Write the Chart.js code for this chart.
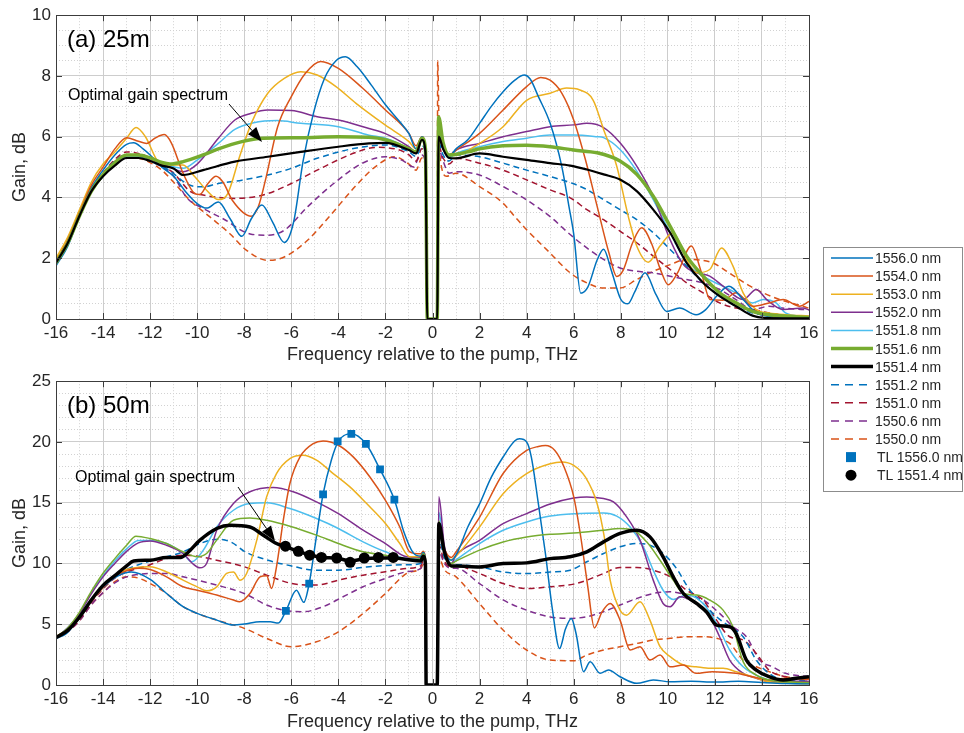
<!DOCTYPE html>
<html>
<head>
<meta charset="utf-8">
<script src="https://cdn.jsdelivr.net/npm/chart.js@4.4.1/dist/chart.umd.min.js"></script>
<style>
body { margin: 0; background: #fff; }
#page { position: relative; width: 964px; height: 733px; overflow: hidden; font-family: "Liberation Sans", Arial, sans-serif; }
canvas { position: absolute; left: 0; }
#chartA { top: 0; }
#chartB { top: 366px; }
.txt { position: absolute; white-space: nowrap; color: #000; line-height: 1; }
.tag { font-size: 24px; left: 67px; }
.note { font-size: 16px; }
#overlay { position: absolute; left: 0; top: 0; }
</style>
</head>
<body>
<div id="page">
  <canvas id="chartA" width="830" height="370"></canvas>
  <canvas id="chartB" width="830" height="367"></canvas>
  <div class="txt tag" style="top:27px">(a) 25m</div>
  <div class="txt tag" style="top:393px">(b) 50m</div>
  <div class="txt note" style="left:68px;top:87px">Optimal gain spectrum</div>
  <div class="txt note" style="left:75px;top:469px">Optimal gain spectrum</div>
  <svg id="overlay" width="964" height="733"></svg>
</div>
<script>
const FONT = '"Liberation Sans", Arial, sans-serif';

// series labels and line styles, same order as the legend
const seriesLabels = ['1556.0 nm', '1554.0 nm', '1553.0 nm', '1552.0 nm', '1551.8 nm', '1551.6 nm',
    '1551.4 nm', '1551.2 nm', '1551.0 nm', '1550.6 nm', '1550.0 nm'];
const markerLabels = ['TL 1556.0 nm', 'TL 1551.4 nm'];
const colors = ['#0072BD', '#D95319', '#EDB120', '#7E2F8E', '#4DBEEE', '#77AC30',
    '#000000', '#0072BD', '#A2142F', '#7E2F8E', '#D95319'];
const dashed = [false, false, false, false, false, false, false, true, true, true, true];

// (a) 25m : [frequency THz, gain dB]
const a1556 = [[-16,1.75],[-15.5,2.4],[-15,3.4],[-14.5,4.3],[-14,4.9],[-13.5,5.4],[-13,5.75],[-12.7,5.8],[-12.3,5.6],[-12,5.4],[-11.5,5.0],[-11,4.7],[-10.5,4.2],[-10,3.8],[-9.6,3.65],[-9.1,3.85],[-8.6,3.3],[-8.1,2.72],[-7.7,3.3],[-7.25,3.75],[-6.8,3.2],[-6.3,2.52],[-5.9,3.2],[-5.5,5.2],[-5.05,6.8],[-4.6,7.9],[-4.1,8.5],[-3.7,8.63],[-3.2,8.3],[-2.6,7.7],[-2,7.05],[-1.4,6.5],[-1,6.1],[-0.7,5.6],[-0.45,6.0],[-0.3,5.6],[-0.22,0],[0.2,0],[0.26,6.1],[0.45,5.7],[0.7,5.35],[1,5.6],[1.5,5.9],[2,6.44],[2.5,7.0],[3,7.48],[3.5,7.86],[3.9,8.03],[4.15,7.9],[4.5,7.32],[5,6.44],[5.5,5.0],[5.8,3.7],[6.0,2.8],[6.3,0.85],[6.6,1.05],[7.0,1.95],[7.27,2.3],[7.6,1.6],[8.0,0.65],[8.3,0.5],[8.6,0.9],[9.03,1.52],[9.5,0.8],[9.95,0.25],[10.5,0.36],[11.2,0.14],[11.6,0.3],[12.07,0.75],[12.6,1.08],[13.2,0.64],[13.76,0.2],[14.3,0.09],[15,0.06],[16,0.05]];
const a1554 = [[-16,1.9],[-15.5,2.6],[-15,3.5],[-14.5,4.4],[-14,5.0],[-13.5,5.6],[-13,5.97],[-12.5,5.85],[-12.15,5.78],[-11.8,5.95],[-11.4,6.07],[-11.1,5.8],[-10.6,4.8],[-10.1,4.13],[-9.9,4.1],[-9.55,4.45],[-9.2,4.7],[-8.9,4.5],[-8.5,3.9],[-7.7,3.38],[-7.4,3.7],[-7.1,4.57],[-6.58,6.33],[-6.0,7.32],[-5.4,8.09],[-4.75,8.48],[-4,8.25],[-3,7.62],[-2,6.88],[-1,6.11],[-0.7,5.7],[-0.45,6.0],[-0.3,5.6],[-0.22,0],[0.2,0],[0.26,6.3],[0.45,5.75],[0.7,5.4],[1,5.56],[2,6.11],[3,6.88],[4,7.65],[4.6,7.95],[5,7.86],[5.5,7.43],[6,6.55],[6.5,5.24],[7,3.7],[7.5,2.17],[7.83,1.4],[8.1,1.6],[8.5,2.5],[8.89,3.0],[9.3,2.5],[9.7,1.6],[10.02,1.13],[10.4,1.5],[11.0,2.4],[11.4,1.6],[11.8,0.64],[12.35,0.62],[12.9,0.86],[13.6,0.42],[14.3,0.53],[14.9,0.64],[15.6,0.42],[16,0.58]];
const a1553 = [[-16,2.0],[-15.5,2.7],[-15,3.6],[-14.5,4.5],[-14,5.1],[-13.5,5.5],[-13,5.95],[-12.6,6.3],[-12.2,6.0],[-11.6,5.13],[-11.16,5.07],[-10.6,5.07],[-10.1,4.68],[-9.6,4.24],[-9.1,3.93],[-8.7,4.13],[-8.2,5.34],[-7.7,6.44],[-7.0,7.43],[-6.3,7.92],[-5.6,8.14],[-4.9,8.03],[-4.1,7.65],[-3.25,7.1],[-2,6.38],[-1,5.84],[-0.7,5.6],[-0.45,6.0],[-0.3,5.6],[-0.22,0],[0.2,0],[0.26,6.0],[0.45,5.7],[0.7,5.4],[1,5.4],[2,5.78],[3,6.33],[4,7.2],[5,7.43],[5.7,7.6],[6.26,7.54],[6.83,7.2],[7.27,6.24],[7.83,5.03],[8.32,3.38],[8.68,2.4],[9.17,1.87],[9.67,2.4],[10.23,2.84],[10.73,2.07],[11.22,1.52],[11.78,1.63],[12.28,2.34],[12.77,1.74],[13.2,0.86],[13.76,0.31],[14.3,0.2],[15,0.14],[16,0.1]];
const a1552 = [[-16,1.9],[-15.5,2.5],[-15,3.4],[-14.5,4.2],[-14,4.75],[-13.5,5.15],[-13,5.4],[-12.5,5.4],[-12,5.25],[-11.5,5.1],[-11.16,5.0],[-10.6,4.85],[-10.0,5.1],[-9.1,5.95],[-8.4,6.55],[-7.7,6.77],[-7.0,6.88],[-6,6.86],[-4.9,6.66],[-4,6.55],[-2.7,6.27],[-2,6.1],[-1,5.67],[-0.7,5.5],[-0.45,5.95],[-0.3,5.55],[-0.22,0],[0.2,0],[0.26,6.0],[0.45,5.6],[0.7,5.35],[1,5.56],[2,5.78],[3,6.0],[4,6.17],[5,6.33],[6,6.39],[6.56,6.44],[7.27,6.3],[7.97,5.8],[8.68,5.03],[9.38,4.04],[10.09,2.62],[10.66,1.79],[11.22,1.52],[11.78,1.41],[12.35,1.08],[13.2,0.64],[13.76,0.97],[14.2,0.64],[14.9,0.31],[15.74,0.36],[16,0.3]];
const a15518 = [[-16,1.85],[-15.5,2.5],[-15,3.4],[-14.5,4.2],[-14,4.7],[-13.5,5.1],[-13,5.35],[-12.5,5.35],[-12,5.2],[-11.5,5.05],[-11.16,5.03],[-10.6,4.96],[-10,5.23],[-9.1,5.78],[-8.4,6.24],[-7.6,6.46],[-6.6,6.53],[-5.6,6.44],[-4,6.33],[-2.7,6.05],[-2,5.95],[-1,5.6],[-0.7,5.45],[-0.45,5.95],[-0.3,5.55],[-0.22,0],[0.2,0],[0.26,6.1],[0.45,5.6],[0.7,5.3],[1,5.45],[2,5.67],[3,5.84],[4,5.95],[5,6.06],[6,6.06],[7,6.0],[7.27,5.97],[7.97,5.58],[8.68,4.87],[9.38,3.93],[10.1,2.84],[10.8,1.85],[11.5,1.41],[12.2,1.13],[12.9,0.86],[13.6,0.53],[14.05,0.64],[14.6,0.53],[15,0.2],[15.74,0.09],[16,0.08]];
const a15516 = [[-16,1.85],[-15.5,2.5],[-15,3.4],[-14.5,4.2],[-14,4.75],[-13.5,5.15],[-13,5.4],[-12.5,5.4],[-12,5.3],[-11.5,5.15],[-11.16,5.1],[-10.6,5.18],[-9.75,5.4],[-9.1,5.6],[-8.1,5.84],[-7.2,5.95],[-5.6,5.97],[-4,6.0],[-2.7,5.98],[-2,5.9],[-1,5.6],[-0.7,5.5],[-0.45,5.95],[-0.3,5.6],[-0.22,0],[0.2,0],[0.26,6.65],[0.45,5.8],[0.7,5.4],[1.5,5.5],[2,5.6],[3,5.7],[4,5.72],[5,5.67],[6,5.56],[7,5.47],[7.97,5.2],[8.68,4.76],[9.38,4.04],[10.1,3.05],[10.8,2.07],[11.5,1.41],[12.2,0.86],[12.9,0.53],[13.6,0.25],[14.3,0.14],[16,0.05]];
const a15514 = [[-16,1.85],[-15.5,2.5],[-15,3.4],[-14.5,4.2],[-14,4.7],[-13.5,5.05],[-13,5.3],[-12.5,5.3],[-12,5.2],[-11.5,5.05],[-11,4.95],[-10.6,4.74],[-9.75,4.9],[-8.4,5.18],[-7,5.34],[-5.6,5.5],[-4,5.67],[-2.7,5.78],[-2,5.8],[-1,5.56],[-0.7,5.45],[-0.45,5.9],[-0.3,5.5],[-0.22,0],[0.2,0],[0.26,6.0],[0.45,5.6],[0.7,5.3],[1,5.29],[2,5.45],[3,5.34],[4,5.24],[5,5.13],[5.85,5.05],[6.56,4.92],[7.27,4.76],[7.97,4.59],[8.68,4.21],[9.38,3.6],[10.1,2.84],[10.8,1.85],[11.5,1.19],[12.2,0.75],[12.9,0.42],[13.6,0.11],[14.3,0.03],[16,0.02]];
const a15512 = [[-16,1.9],[-15.5,2.5],[-15,3.4],[-14.5,4.2],[-14,4.75],[-13.5,5.2],[-13,5.4],[-12.5,5.4],[-12,5.25],[-11.5,5.05],[-11.2,4.9],[-10.3,4.4],[-9.75,4.35],[-9.1,4.46],[-8.1,4.57],[-7,4.74],[-6,4.96],[-4.9,5.29],[-3.3,5.62],[-2,5.73],[-1,5.5],[-0.7,5.35],[-0.45,5.7],[-0.3,5.4],[-0.22,0],[0.2,0],[0.26,5.8],[0.45,5.4],[0.7,5.2],[1,5.4],[2,5.34],[3,5.13],[4,4.9],[5,4.69],[6,4.45],[6.56,4.26],[7.27,3.93],[7.97,3.6],[8.68,3.27],[9.38,2.84],[10.1,2.29],[10.8,1.74],[11.5,1.19],[12.2,0.75],[12.9,0.42],[13.6,0.2],[16,0.05]];
const a15510 = [[-16,1.9],[-15.5,2.5],[-15,3.4],[-14.5,4.3],[-14,4.8],[-13.5,5.25],[-13,5.5],[-12.5,5.45],[-12,5.3],[-11.5,5.05],[-11,4.8],[-10.3,4.2],[-9.75,4.08],[-8.4,3.97],[-7.2,4.08],[-6,4.46],[-4.9,4.9],[-3.3,5.47],[-2.4,5.65],[-1.4,5.56],[-1,5.4],[-0.7,5.2],[-0.45,5.6],[-0.3,5.3],[-0.22,0],[0.2,0],[0.26,5.7],[0.45,5.3],[0.7,5.1],[1,5.29],[2,5.13],[3,4.9],[4,4.58],[5,4.25],[5.85,3.99],[6.56,3.6],[7.27,3.27],[7.97,2.89],[8.68,2.51],[9.38,2.07],[10.1,1.63],[10.8,1.19],[11.5,0.86],[12.2,0.53],[12.9,0.36],[13.6,0.31],[14.3,0.2],[15,0.11],[16,0.08]];
const a15506 = [[-16,1.9],[-15.5,2.5],[-15,3.4],[-14.5,4.2],[-14,4.75],[-13.5,5.2],[-13,5.4],[-12.5,5.35],[-12,5.2],[-11.5,5.0],[-11,4.7],[-10.45,4.0],[-9.75,3.64],[-8.9,3.3],[-7.75,2.8],[-7,2.76],[-6.3,2.92],[-5.3,3.7],[-4.2,4.46],[-3,5.12],[-2,5.34],[-1.3,5.23],[-0.8,5.0],[-0.6,5.3],[-0.45,5.4],[-0.3,5.1],[-0.22,0],[0.2,0],[0.26,5.6],[0.45,5.2],[0.7,4.8],[1,4.85],[2,4.74],[3,4.36],[4,3.92],[5,3.37],[5.85,2.78],[6.56,2.34],[7.27,1.96],[7.97,1.68],[8.68,1.57],[9.38,1.52],[10.1,1.41],[10.8,1.3],[11.5,1.19],[12.2,0.97],[12.9,0.64],[13.6,0.31],[14.3,0.42],[15,0.35],[16,0.3]];
const a15500 = [[-16,1.95],[-15.5,2.6],[-15,3.5],[-14.5,4.3],[-14,4.8],[-13.5,5.2],[-13,5.35],[-12.5,5.3],[-12,5.15],[-11.5,4.9],[-11,4.5],[-10.3,3.9],[-9.46,3.36],[-8.6,2.8],[-7.9,2.26],[-7,1.93],[-6.3,2.04],[-5.3,2.6],[-4.4,3.36],[-3.3,4.35],[-2.45,5.0],[-1.6,5.34],[-1,5.1],[-0.7,4.9],[-0.45,5.3],[-0.3,5.0],[-0.22,0],[0.2,0],[0.22,8.5],[0.3,5.5],[0.6,4.7],[1,4.8],[2,4.36],[3,3.81],[3.5,3.37],[4,2.94],[5,2.17],[5.85,1.52],[6.56,1.19],[7.27,1.02],[7.97,1.02],[8.68,1.3],[9.38,1.57],[10.1,1.79],[10.8,1.96],[11.9,1.85],[12.6,1.52],[13.5,1.08],[14.05,0.86],[14.75,0.64],[15.74,0.42],[16,0.35]];

// (b) 50m : [frequency THz, gain dB]
const b1556 = [[-16,3.83],[-15.55,4.24],[-15,5.6],[-14.4,7.26],[-14,8.08],[-13.4,8.95],[-12.8,9.3],[-12,8.7],[-11.3,7.53],[-10.6,6.44],[-10,5.89],[-9.17,5.34],[-8.46,4.93],[-8,5.01],[-7.33,5.2],[-6.9,5.2],[-6.55,5.1],[-6.23,6.1],[-5.78,7.8],[-5.47,6.8],[-5.24,8.36],[-4.95,12],[-4.65,15.7],[-4.3,18.5],[-4.0,20.05],[-3.45,20.68],[-2.83,19.85],[-2.23,17.74],[-1.62,15.25],[-1.2,12.5],[-0.82,10.87],[-0.5,10.6],[-0.4,10.9],[-0.3,10.2],[-0.27,0],[0.2,0],[0.27,12.5],[0.5,11.0],[0.8,10.27],[1,10.68],[1.5,13.0],[2,14.9],[2.5,17.1],[3,18.76],[3.5,20.1],[3.7,20.26],[4,20.0],[4.2,18.76],[4.5,14.9],[4.8,10.8],[5.1,6.16],[5.4,3.0],[5.65,4.6],[5.9,5.48],[6.1,4.24],[6.42,1.1],[6.7,1.92],[7.12,0.96],[7.48,1.23],[7.97,0.68],[8.68,0.14],[9.38,0.41],[10.1,0.27],[11,0.3],[12,0.25],[13,0.3],[14,0.2],[15,0.12],[16,0.1]];
const b1554 = [[-16,3.9],[-15.5,4.5],[-15,5.5],[-14.5,6.9],[-14,8.0],[-13.5,8.9],[-13,9.4],[-12.5,9.6],[-12,9.5],[-11.3,8.9],[-10.6,8.08],[-10,7.8],[-9.17,7.4],[-8.46,6.99],[-8.2,6.85],[-7.76,7.53],[-7.33,8.9],[-7.05,9.0],[-6.84,7.95],[-6.63,9.73],[-6.34,13.56],[-6.06,16.58],[-5.63,18.77],[-5.07,19.86],[-4.65,20.08],[-4,19.73],[-3.37,18.77],[-2.66,17.12],[-2,15.2],[-1.39,13.0],[-0.97,10.96],[-0.5,10.8],[-0.4,11.0],[-0.3,10.3],[-0.27,0],[0.2,0],[0.27,12.8],[0.5,11.2],[0.8,10.5],[1,10.95],[2,13.8],[3,17.4],[4,19.3],[4.5,19.63],[4.8,19.7],[5.2,19.3],[5.6,17.9],[6,15.5],[6.3,12.2],[6.6,8.08],[6.88,4.7],[7.2,6.0],[7.55,6.71],[7.97,5.34],[8.4,2.88],[8.82,3.15],[9.24,2.05],[9.67,2.47],[10.1,1.5],[10.66,1.64],[11.2,0.96],[11.9,1.1],[12.9,0.96],[13.6,0.68],[14.3,0.41],[15,0.55],[16,0.47]];
const b1553 = [[-16,4.0],[-15.5,4.6],[-15,5.6],[-14.5,7.0],[-14,8.1],[-13.5,9.0],[-13,9.5],[-12.5,9.7],[-12,9.73],[-11.3,9.3],[-10.6,8.63],[-10,8.08],[-9.6,7.75],[-9.17,8.08],[-8.75,9.18],[-8.46,9.3],[-8.18,8.63],[-7.9,9.18],[-7.47,11.9],[-7.05,15.48],[-6.63,17.4],[-6.06,18.63],[-5.5,18.9],[-4.93,18.5],[-4.22,17.4],[-3.51,16.3],[-2.8,14.93],[-2,13.29],[-1.39,11.64],[-0.97,10.55],[-0.5,10.6],[-0.4,10.9],[-0.3,10.2],[-0.27,0],[0.2,0],[0.27,12.5],[0.5,11.0],[0.8,10.3],[1,10.6],[2,13.0],[3,15.74],[4,17.4],[5,18.2],[5.5,18.35],[6,18.07],[6.5,17.1],[7,14.9],[7.3,12.18],[7.55,8.63],[7.97,6.16],[8.25,5.75],[8.82,6.85],[9.24,5.34],[9.67,3.15],[10.1,2.33],[10.66,1.64],[11.2,1.5],[11.8,1.37],[12.35,1.37],[12.9,1.1],[13.6,0.68],[14.3,0.27],[16,0.1]];
const b1552 = [[-16,3.9],[-15.5,4.7],[-15,5.9],[-14.5,7.5],[-14,8.9],[-13.5,10.0],[-13,11.0],[-12.5,11.7],[-12,11.86],[-11.3,11.5],[-10.6,10.82],[-10.2,10.0],[-9.88,9.64],[-9.6,10.0],[-9.17,12.74],[-8.46,14.93],[-7.76,15.9],[-6.77,16.25],[-5.92,15.9],[-4.93,15.07],[-4,14.1],[-2.95,12.74],[-2,11.64],[-1.1,10.55],[-0.5,10.5],[-0.4,10.9],[-0.3,10.2],[-0.27,0],[0.2,0],[0.27,15.5],[0.5,11.5],[0.8,10.0],[1,10.68],[2,11.9],[3,13.28],[4,14.1],[5,14.9],[6,15.39],[6.56,15.48],[7.27,15.34],[7.69,15.07],[8.25,13.84],[8.82,11.92],[9.38,8.63],[9.8,6.71],[10.1,6.44],[10.51,7.26],[11.08,6.85],[11.78,5.62],[12.2,3.97],[12.63,2.05],[13.2,0.96],[13.76,0.55],[14.3,0.27],[15,0.3],[16,0.3]];
const b15518 = [[-16,3.9],[-15.5,4.7],[-15,5.9],[-14.5,7.6],[-14,9.0],[-13.5,10.2],[-13,11.2],[-12.5,11.9],[-12,11.9],[-11.3,11.64],[-10.6,10.82],[-10.23,10.14],[-9.74,11.1],[-9.17,13.0],[-8.46,14.38],[-7.76,14.93],[-7.05,14.99],[-6.06,14.52],[-4.93,13.7],[-4,12.88],[-2.95,11.78],[-2,10.96],[-1.1,10.41],[-0.5,10.4],[-0.4,10.8],[-0.3,10.1],[-0.27,0],[0.2,0],[0.27,14.2],[0.5,11.3],[0.8,10.0],[1,10.3],[2,11.64],[3,12.73],[4,13.42],[5,13.9],[6,14.1],[7.27,14.16],[7.83,13.9],[8.4,13.0],[8.96,11.37],[9.38,9.45],[9.8,7.8],[10.23,7.04],[10.8,7.4],[11.5,6.71],[12.07,5.07],[12.63,2.88],[13.2,1.5],[13.9,0.68],[14.6,0.27],[16,0.1]];
const b15516 = [[-16,3.9],[-15.5,4.7],[-15,6.0],[-14.5,7.7],[-14,9.2],[-13.5,10.4],[-13,11.5],[-12.6,12.25],[-12,12.05],[-11.3,11.64],[-10.6,10.96],[-10,10.55],[-9.6,10.82],[-9.17,11.92],[-8.46,13.56],[-7.76,13.75],[-7.05,13.56],[-6.06,13.07],[-4.93,12.33],[-4,11.64],[-2.95,10.96],[-2,10.68],[-1.1,10.33],[-0.5,10.4],[-0.4,10.8],[-0.3,10.1],[-0.27,0],[0.2,0],[0.27,13.5],[0.5,11.0],[0.8,10.0],[1,10.2],[2,11.1],[3,11.77],[4,12.18],[5,12.4],[6,12.5],[7.27,12.74],[7.97,12.88],[8.54,12.74],[9.1,11.78],[9.67,10.27],[10.23,8.63],[10.66,7.53],[11.22,7.4],[11.78,6.99],[12.35,6.16],[12.77,4.79],[13.2,1.92],[13.76,0.82],[14.3,0.41],[16,0.2]];
const b15514 = [[-16,3.9],[-15.5,4.5],[-15,5.6],[-14.5,7.0],[-14,8.2],[-13.5,9.0],[-13,9.8],[-12.7,10.2],[-12,10.27],[-11.3,10.49],[-10.7,10.5],[-10.44,10.82],[-9.88,11.92],[-9.17,12.88],[-8.6,13.15],[-7.76,13.0],[-7.19,12.33],[-6.63,11.64],[-6.3,11.42],[-5.7,11.0],[-5.2,10.7],[-4.7,10.5],[-4.07,10.45],[-3.5,10.2],[-2.87,10.4],[-2.3,10.45],[-1.67,10.45],[-1,10.3],[-0.5,10.2],[-0.4,10.6],[-0.3,10.0],[-0.27,0],[0.2,0],[0.27,13.28],[0.5,11.0],[0.8,9.8],[1,9.8],[2,9.72],[3,10.0],[4,10.05],[5,10.4],[5.85,10.55],[6.56,10.96],[7.27,11.78],[7.97,12.47],[8.68,12.74],[9.24,12.19],[9.8,10.55],[10.23,8.9],[10.66,7.53],[11.22,6.71],[11.64,6.03],[12.07,4.93],[12.63,4.79],[12.9,4.25],[13.34,2.05],[13.76,1.23],[14.3,0.68],[14.9,0.41],[15.45,0.55],[16,0.68]];
const b15512 = [[-16,3.9],[-15.5,4.5],[-15,5.5],[-14.5,6.9],[-14,8.0],[-13.5,8.9],[-13,9.5],[-12.5,9.9],[-12,10.2],[-11.3,10.55],[-10.6,10.96],[-9.88,11.64],[-9.1,12.0],[-8.5,11.7],[-8,11.0],[-7.05,10.3],[-6,9.8],[-5,9.45],[-4,9.45],[-2.8,9.72],[-1.67,9.86],[-1,9.9],[-0.5,10.0],[-0.4,10.4],[-0.3,9.8],[-0.27,0],[0.2,0],[0.27,12.0],[0.5,10.5],[0.8,9.8],[1,9.9],[2,9.72],[3,9.3],[4,9.17],[5,9.3],[5.85,9.45],[6.56,10.14],[7.27,10.82],[7.97,11.37],[8.68,11.64],[9.24,11.5],[9.8,10.82],[10.37,9.59],[10.94,7.8],[11.5,6.71],[12.07,5.62],[12.63,4.79],[13.2,3.97],[13.76,2.05],[14.3,0.96],[15,0.41],[16,0.4]];
const b15510 = [[-16,3.9],[-15.5,4.4],[-15,5.4],[-14.5,6.8],[-14,7.9],[-13.5,8.8],[-13,9.3],[-12.5,9.6],[-12,9.9],[-11.3,10.41],[-10.6,10.68],[-10,10.6],[-9.17,10.27],[-8,9.73],[-7.05,9.04],[-6,8.36],[-4.93,8.22],[-4,8.63],[-2.95,9.04],[-2,9.32],[-1.1,9.59],[-0.5,9.8],[-0.4,10.2],[-0.3,9.6],[-0.27,0],[0.2,0],[0.27,11.5],[0.5,10.2],[0.8,9.7],[1,9.8],[2,9.17],[3,8.35],[4,7.94],[5,8.08],[6,8.3],[6.56,8.63],[7.27,9.18],[7.97,9.67],[8.68,9.67],[9.38,9.45],[10.1,8.9],[10.8,7.8],[11.5,6.99],[12.07,5.34],[12.63,3.97],[13.2,3.7],[13.76,2.6],[14.3,1.23],[15,0.68],[16,0.41]];
const b15506 = [[-16,3.9],[-15.5,4.4],[-15,5.3],[-14.5,6.6],[-14,7.6],[-13.5,8.4],[-13,8.9],[-12.5,9.1],[-12,9.18],[-11.3,9.18],[-10.6,8.9],[-9.17,8.22],[-8,7.53],[-7.05,6.58],[-6.34,6.16],[-5.5,6.03],[-4.65,6.44],[-3.8,7.26],[-2.95,8.08],[-2,8.77],[-1.1,9.32],[-0.5,9.6],[-0.4,10.0],[-0.3,9.4],[-0.27,0],[0.2,0],[0.27,11.0],[0.5,10.0],[0.8,9.6],[1,9.6],[2,8.35],[3,7.0],[4,6.16],[5,5.6],[5.85,5.48],[6.56,5.62],[7.27,6.03],[7.97,6.58],[8.68,7.12],[9.38,7.53],[10.1,7.67],[10.8,7.4],[11.5,6.99],[12.2,5.89],[12.77,4.79],[13.34,3.97],[13.9,2.05],[14.45,1.5],[15,0.96],[16,0.68]];
const b15500 = [[-16,3.9],[-15.5,4.4],[-15,5.3],[-14.5,6.6],[-14,7.6],[-13.5,8.5],[-13,8.9],[-12.5,8.8],[-12,8.36],[-11.3,7.53],[-10.6,6.44],[-10,5.89],[-9.17,5.34],[-8,4.66],[-7.05,3.84],[-6,3.15],[-4.93,3.56],[-4,4.38],[-2.95,5.89],[-2,7.53],[-1.1,9.18],[-0.5,9.6],[-0.4,9.9],[-0.3,9.3],[-0.27,0],[0.2,0],[0.27,10.5],[0.5,9.5],[1,8.9],[2,6.7],[3,4.52],[4,2.88],[5,2.05],[6,2.0],[6.56,2.47],[7.27,2.88],[7.97,3.15],[8.68,3.42],[9.38,3.7],[10.1,3.84],[10.8,3.97],[11.5,3.97],[12.07,3.84],[12.63,3.42],[13.2,2.05],[13.76,1.5],[14.3,1.1],[15,0.68],[16,0.55]];

// theory points in (b)
const tl1556 = [[-6.23,6.1],[-5.24,8.35],[-4.65,15.69],[-4.03,20.04],[-3.45,20.67],[-2.83,19.85],[-2.23,17.74],[-1.62,15.25]];
const tl15514 = [[-6.25,11.42],[-5.7,11.0],[-5.22,10.68],[-4.72,10.5],[-4.07,10.45],[-3.5,10.1],[-2.9,10.45],[-2.3,10.5],[-1.67,10.5]];

const seriesA = [a1556, a1554, a1553, a1552, a15518, a15516, a15514, a15512, a15510, a15506, a15500];
const seriesB = [b1556, b1554, b1553, b1552, b15518, b15516, b15514, b15512, b15510, b15506, b15500];

function toXY(pts) {
    return pts.map(p => ({ x: p[0], y: p[1] }));
}

function lineSet(pts, i, width) {
    return {
        label: seriesLabels[i],
        data: toXY(pts),
        borderColor: colors[i],
        borderWidth: width,
        borderDash: dashed[i] ? [6, 4] : [],
        pointRadius: 0,
        fill: false,
        cubicInterpolationMode: 'monotone',
        order: i === 6 ? 1 : (i === 5 ? 2 : 3 + i)
    };
}

function isMinor(c, major) {
    return c.tick !== undefined && Math.abs(c.tick.value % major) > 1e-6;
}

// frame with inward ticks, like the matlab box
const boxPlugin = {
    id: 'box',
    afterDatasetsDraw(chart, args, opts) {
        const { ctx, chartArea: a, scales } = chart;
        ctx.save();
        ctx.strokeStyle = '#3c3c3c';
        ctx.lineWidth = 1;
        ctx.strokeRect(Math.round(a.left) + 0.5, Math.round(a.top) + 0.5, Math.round(a.right - a.left), Math.round(a.bottom - a.top));
        ctx.beginPath();
        scales.x.ticks.forEach(t => {
            if (Math.abs(t.value % 2) > 1e-6) return;
            const px = Math.round(scales.x.getPixelForValue(t.value)) + 0.5;
            ctx.moveTo(px, a.bottom); ctx.lineTo(px, a.bottom - 6);
            ctx.moveTo(px, a.top); ctx.lineTo(px, a.top + 6);
        });
        scales.y.ticks.forEach(t => {
            if (Math.abs(t.value % opts.major) > 1e-6) return;
            const py = Math.round(scales.y.getPixelForValue(t.value)) + 0.5;
            ctx.moveTo(a.left, py); ctx.lineTo(a.left + 6, py);
            ctx.moveTo(a.right, py); ctx.lineTo(a.right - 6, py);
        });
        ctx.stroke();
        ctx.restore();
    }
};

function makeOptions(yMax, yStep, yMajor, xAxisHeight, titlePad) {
    const tickFont = { size: 17, family: FONT };
    const titleFont = { size: 18, family: FONT };
    return {
        responsive: false,
        animation: false,
        layout: { padding: { left: 0, right: 21, top: 15, bottom: 0 } },
        plugins: { legend: { display: false }, tooltip: { enabled: false }, box: { major: yMajor } },
        scales: {
            x: {
                type: 'linear', min: -16, max: 16,
                afterFit: s => { s.height = xAxisHeight; },
                ticks: { stepSize: 1, autoSkip: false, maxRotation: 0, padding: 4, color: '#262626', font: tickFont,
                    callback: v => (Math.abs(v % 2) < 1e-6 ? v : '') },
                grid: { drawTicks: false, color: c => isMinor(c, 2) ? '#d2d2d2' : '#cdcdcd' },
                border: { display: false, dash: c => isMinor(c, 2) ? [1, 2] : [] },
                title: { display: true, text: 'Frequency relative to the pump, THz', color: '#262626',
                    font: titleFont, padding: { top: 0, bottom: titlePad } }
            },
            y: {
                min: 0, max: yMax,
                afterFit: s => { s.width = 56; },
                ticks: { stepSize: yStep, autoSkip: false, padding: 5, color: '#262626', font: tickFont,
                    callback: v => (Math.abs(v % yMajor) < 1e-6 ? v : '') },
                grid: { drawTicks: false, color: c => isMinor(c, yMajor) ? '#d2d2d2' : '#cdcdcd' },
                border: { display: false, dash: c => isMinor(c, yMajor) ? [1, 2] : [] },
                title: { display: true, text: 'Gain, dB', color: '#262626',
                    font: titleFont, padding: { top: 9, bottom: 0 } }
            }
        }
    };
}

const datasetsA = seriesA.map((pts, i) => lineSet(pts, i, i === 5 ? 3.5 : (i === 6 ? 2.2 : 1.5)));
new Chart(document.getElementById('chartA'), {
    type: 'line',
    data: { datasets: datasetsA },
    options: makeOptions(10, 0.5, 2, 51, 4),
    plugins: [boxPlugin]
});

const datasetsB = seriesB.map((pts, i) => lineSet(pts, i, i === 6 ? 3.5 : 1.5));
datasetsB.push({
    label: markerLabels[0], data: toXY(tl1556), showLine: false, pointStyle: 'rect',
    pointRadius: 5.5, pointBackgroundColor: '#0072BD', pointBorderWidth: 0, order: 0
});
datasetsB.push({
    label: markerLabels[1], data: toXY(tl15514), showLine: false, pointStyle: 'circle',
    pointRadius: 5.5, pointBackgroundColor: '#000000', pointBorderWidth: 0, order: 0
});
new Chart(document.getElementById('chartB'), {
    type: 'line',
    data: { datasets: datasetsB },
    options: makeOptions(25, 1, 5, 48, 0),
    plugins: [boxPlugin]
});

// legend and annotation arrows
const svg = document.getElementById('overlay');
const NS = 'http://www.w3.org/2000/svg';
function el(name, attrs, text) {
    const e = document.createElementNS(NS, name);
    for (const k in attrs) e.setAttribute(k, attrs[k]);
    if (text) e.textContent = text;
    svg.appendChild(e);
    return e;
}
el('rect', { x: 823.5, y: 247.5, width: 139, height: 244, fill: '#fff', stroke: '#8c8c8c', 'stroke-width': 1 });
const rowY = i => 258 + i * 18.1;
seriesLabels.forEach((lab, i) => {
    const w = i === 5 || i === 6 ? 3.5 : 1.5;
    el('line', { x1: 831, x2: 873, y1: rowY(i), y2: rowY(i), stroke: colors[i], 'stroke-width': w,
        'stroke-dasharray': dashed[i] ? '8 6' : 'none' });
    el('text', { x: 875, y: rowY(i) + 5, 'font-size': 14, 'font-family': FONT, fill: '#262626' }, lab);
});
el('rect', { x: 846, y: rowY(11) - 5, width: 10, height: 10, fill: '#0072BD' });
el('circle', { cx: 851, cy: rowY(12), r: 5.5, fill: '#000' });
markerLabels.forEach((lab, k) => {
    el('text', { x: 877, y: rowY(11 + k) + 5, 'font-size': 14, 'font-family': FONT, fill: '#262626' }, lab);
});

function arrow(x1, y1, x2, y2) {
    const ang = Math.atan2(y2 - y1, x2 - x1), len = 15, half = 5.5;
    const bx = x2 - len * Math.cos(ang), by = y2 - len * Math.sin(ang);
    el('line', { x1, y1, x2: bx, y2: by, stroke: '#000', 'stroke-width': 1 });
    const px = -Math.sin(ang) * half, py = Math.cos(ang) * half;
    el('polygon', { points: `${x2},${y2} ${bx + px},${by + py} ${bx - px},${by - py}`, fill: '#000' });
}
arrow(229, 104, 262, 142);
arrow(238, 487, 275, 541);
</script>
</body>
</html>
